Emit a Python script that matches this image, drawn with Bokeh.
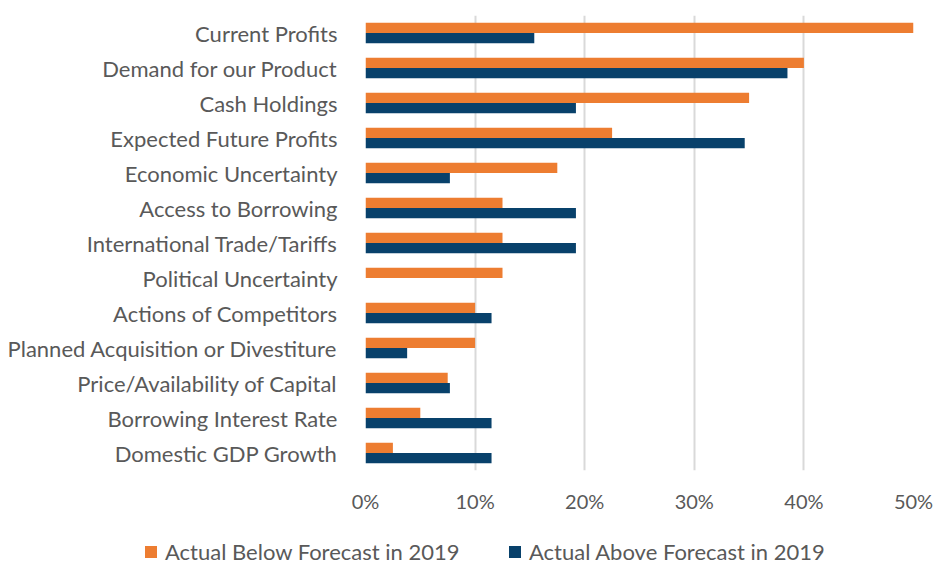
from bokeh.plotting import figure
from bokeh.layouts import column
from bokeh.models import (ColumnDataSource, FactorRange, Range1d, FixedTicker,
                          NumeralTickFormatter, Div)
from bokeh.transform import dodge
from bokeh.embed import file_html
from bokeh.resources import INLINE

categories = ["Current Profits", "Demand for our Product", "Cash Holdings",
              "Expected Future Profits", "Economic Uncertainty", "Access to Borrowing",
              "International Trade/Tariffs", "Political Uncertainty",
              "Actions of Competitors", "Planned Acquisition or Divestiture",
              "Price/Availability of Capital", "Borrowing Interest Rate",
              "Domestic GDP Growth"]
below_forecast = [0.50, 0.40, 0.35, 0.225, 0.175, 0.125, 0.125, 0.125,
                  0.10, 0.10, 0.075, 0.05, 0.025]
above_forecast = [0.154, 0.385, 0.192, 0.346, 0.077, 0.192, 0.192, 0.0,
                  0.115, 0.038, 0.077, 0.115, 0.115]
series_labels = ["Actual Below Forecast in 2019", "Actual Above Forecast in 2019"]
x_ticks = [0, 0.1, 0.2, 0.3, 0.4, 0.5]

FONT = "Lato"
GRAY = "#595959"
ORANGE = "#ED7D31"
BLUE = "#08416B"

src = ColumnDataSource(dict(cat=categories, below=below_forecast, above=above_forecast))

p = figure(width=934, height=516, output_backend="svg", toolbar_location=None,
           y_range=FactorRange(*reversed(categories)), x_range=Range1d(0, 0.5),
           min_border_left=365, min_border_right=21, min_border_top=15,
           min_border_bottom=46)
p.outline_line_color = None

p.hbar(y=dodge("cat", 0.145, range=p.y_range), right="below", left=0,
       height=0.29, source=src, fill_color=ORANGE, line_color=None)
p.hbar(y=dodge("cat", -0.145, range=p.y_range), right="above", left=0,
       height=0.29, source=src, fill_color=BLUE, line_color=None)

p.xaxis.ticker = FixedTicker(ticks=x_ticks)
p.xaxis.formatter = NumeralTickFormatter(format="0%")
p.xaxis.axis_line_color = None
p.xaxis.major_tick_line_color = None
p.xaxis.minor_tick_line_color = None
p.xaxis.major_label_standoff = 12
p.xaxis.major_label_text_font = FONT
p.xaxis.major_label_text_font_size = "20px"
p.xaxis.major_label_text_color = GRAY

p.yaxis.axis_line_color = None
p.yaxis.major_tick_line_color = None
p.yaxis.major_label_standoff = 22
p.yaxis.major_label_text_font = FONT
p.yaxis.major_label_text_font_size = "22px"
p.yaxis.major_label_text_color = GRAY

p.ygrid.grid_line_color = None
p.xgrid.grid_line_color = "#d9d9d9"
p.xgrid.grid_line_width = 2

# legend strip below the chart (HTML text)
items_html = ""
for (lab, col, left) in [(series_labels[0], ORANGE, 145), (series_labels[1], BLUE, 509)]:
    items_html += (
        f'<span style="position:absolute;left:{left}px;top:30px;width:12px;height:12px;'
        f'background:{col};"></span>'
        f'<span style="position:absolute;left:{left + 20}px;top:24px;line-height:24px;'
        f'white-space:nowrap;">{lab}</span>'
    )
legend_div = Div(
    text=f'<div style="position:relative;width:934px;height:48px;font-family:Lato;'
         f'font-size:22px;color:{GRAY};">{items_html}</div>',
    width=934, height=48, margin=0)

layout = column(p, legend_div, spacing=0)
open("out.html", "w").write(file_html(layout, INLINE))
